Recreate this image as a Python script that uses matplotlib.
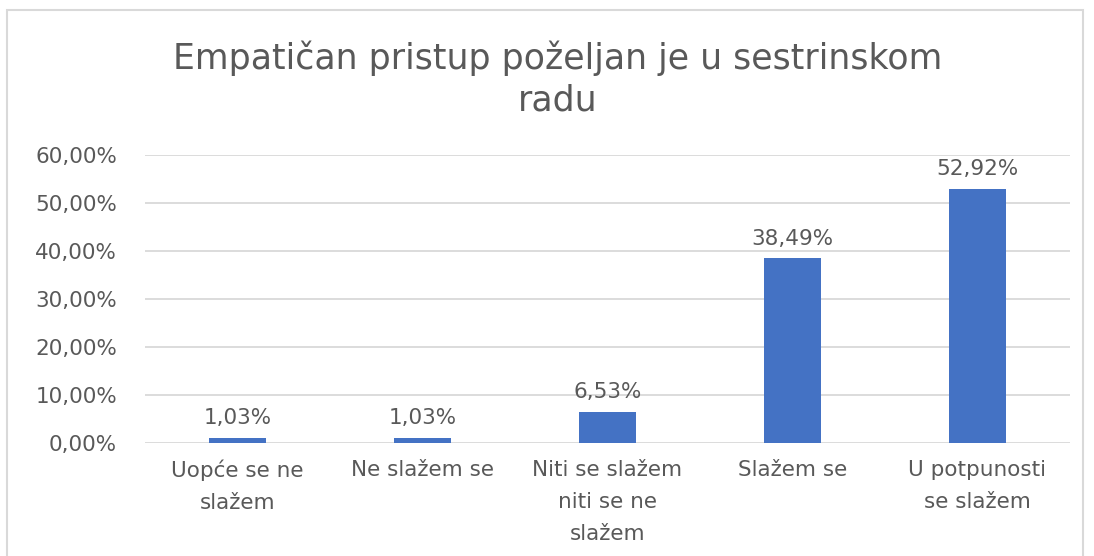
import matplotlib.pyplot as plt
from matplotlib.patches import Rectangle

plt.rcParams['font.family'] = ['DejaVu Sans']

categories = ["Uopće se ne\nslažem", "Ne slažem se", "Niti se slažem\nniti se ne\nslažem",
              "Slažem se", "U potpunosti\nse slažem"]
values = [1.03, 1.03, 6.53, 38.49, 52.92]
yticks = [0, 10, 20, 30, 40, 50, 60]
title = "Empatičan pristup poželjan je u sestrinskom\nradu"

text_color = "#595959"
bar_color = "#4472C4"
grid_color = "#D9D9D9"

fig = plt.figure(figsize=(10.94, 5.56), dpi=100)
ax = fig.add_axes([0.1325, 0.2032, 0.8455, 0.5178])

x = range(len(categories))
ax.bar(x, values, width=0.31, color=bar_color, zorder=3)

for i, v in enumerate(values):
    ax.annotate(f"{v:.2f}%".replace(".", ","), (i, v), xytext=(0, 7),
                textcoords="offset points", ha="center", va="bottom",
                fontsize=15.5, color=text_color)

ax.set_xlim(-0.5, len(categories) - 0.5)
ax.set_ylim(0, 60)
ax.set_yticks(yticks)
ax.set_yticklabels([f"{t:.2f}%".replace(".", ",") for t in yticks])
ax.set_xticks(list(x))
ax.set_xticklabels(categories, linespacing=1.75)
ax.tick_params(axis="both", length=0, labelsize=15.5, labelcolor=text_color)
ax.tick_params(axis="y", pad=20)
ax.tick_params(axis="x", pad=12)
ax.grid(axis="y", color=grid_color, linewidth=1.3, zorder=0)
for s in ax.spines.values():
    s.set_visible(False)

fig.text(0.510, 0.858, title, ha="center", va="center", fontsize=25,
         color=text_color, linespacing=1.25)

# chart border
fig.patches.append(Rectangle((0.0064, -0.05), 0.984, 1.032, transform=fig.transFigure,
                             fill=False, edgecolor="#D9D9D9", linewidth=1.5))

fig.savefig("out.png", dpi=100)
